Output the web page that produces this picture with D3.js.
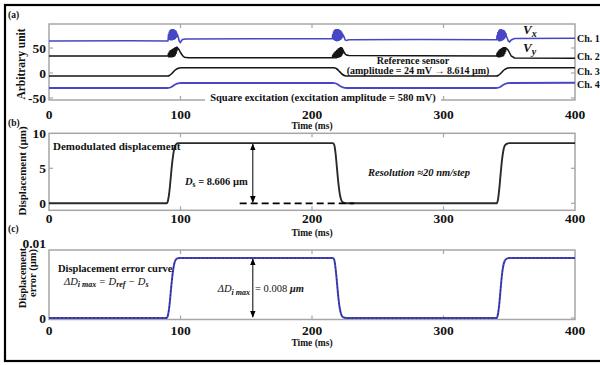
<!DOCTYPE html>
<html><head><meta charset="utf-8">
<script src="https://cdn.jsdelivr.net/npm/d3@7"></script>
<style>
body{margin:0;background:#fff}
svg{display:block}
text{font-family:"Liberation Serif","Times New Roman",Times,serif;fill:#111}
</style>
</head><body>
<svg id="chart" width="600" height="365" font-family="Liberation Serif, Times New Roman, serif"></svg>
<script>
// ---------------- DATA ----------------
const timeTicks = [0, 100, 200, 300, 400];
const ticksA = [-50, 0, 50];
const ticksB = [0, 5, 10];
const ticksC = [0, 0.01];
const channelLabels = ["Ch. 1", "Ch. 2", "Ch. 3", "Ch. 4"];

// Ch.1 (Vx, blue) [time ms, value]
const ch1 = [[0,64],[60,64.5],[90.3,64],
[90.6,66],[90.9,78],[91.2,67],[91.5,83],[91.8,66],[92.1,86],[92.4,65],[92.7,87],[93.0,66],[93.3,88],[93.6,65],[93.9,87],[94.2,66],[94.5,88],[94.8,66],[95.1,87],[95.4,67],[95.7,86],[96.0,68],[96.3,85],[96.6,70],[96.9,83],[97.2,72],[97.5,78],
[98.2,72],[99.0,64],[99.8,61],[100.6,64],[101.5,67],[104,68],[160,68.5],[215.2,68.5],
[215.5,70],[215.8,78],[216.1,67],[216.4,83],[216.7,66],[217.0,86],[217.3,65],[217.6,87],[217.9,64],[218.2,88],[218.5,64],[218.8,88],[219.1,63],[219.4,87],[219.7,64],[220.0,88],[220.3,64],[220.6,87],[220.9,65],[221.2,86],[221.5,66],[221.8,85],[222.1,67],[222.4,83],[222.7,69],[223.0,80],[223.3,72],[223.6,76],
[224.3,73],[225.2,66],[226.2,65],[228,66.5],[280,67],[340.2,66.5],
[340.5,68],[340.8,76],[341.1,66],[341.4,82],[341.7,64],[342.0,85],[342.3,63],[342.6,87],[342.9,63],[343.2,88],[343.5,64],[343.8,88],[344.1,64],[344.4,87],[344.7,65],[345.0,87],[345.3,66],[345.6,86],[345.9,67],[346.2,85],[346.5,69],[346.8,83],[347.1,71],[347.4,80],[347.7,74],
[348.4,70],[349.3,64],[350.3,62],[351.5,66],[354,69],[400,69.5]];

// Ch.2 (Vy, black)
const ch2 = [[0,34],[60,34],[90.3,34],
[90.6,35],[90.9,40],[91.2,31],[91.5,43],[91.8,31],[92.1,45],[92.4,31],[92.7,46],[93.0,32],[93.3,47],[93.6,31],[93.9,48],[94.2,32],[94.5,49],[94.8,32],[95.1,50],[95.4,33],[95.7,51],[96.0,35],[96.3,52],[96.6,38],[96.9,52],[97.2,43],[97.5,51],
[98.2,49],[99.0,46],[100,41],[101.5,35],[103,31.5],[106,30.5],[160,30.5],[215.2,30.5],
[215.5,32],[215.8,36],[216.1,29],[216.4,39],[216.7,29],[217.0,41],[217.3,29],[217.6,43],[217.9,30],[218.2,44],[218.5,29],[218.8,46],[219.1,30],[219.4,47],[219.7,30],[220.0,49],[220.3,31],[220.6,50],[220.9,31],[221.2,51],[221.5,32],[221.8,52],[222.1,33],[222.4,52],[222.7,35],[223.0,50],[223.3,38],[223.6,46],
[224.3,42],[225.2,38],[226.2,36],[228,35],[280,34.5],[340.2,34],
[340.5,36],[340.8,40],[341.1,32],[341.4,43],[341.7,31],[342.0,45],[342.3,31],[342.6,47],[342.9,31],[343.2,48],[343.5,32],[343.8,49],[344.1,32],[344.4,50],[344.7,33],[345.0,51],[345.3,33],[345.6,52],[345.9,35],[346.2,52],[346.5,38],[346.8,52],[347.1,42],[347.4,51],[347.7,48],
[348.4,48],[349.3,45],[350.3,40],[351.5,34],[354,30],[400,29.5]];

// Ch.3 (reference sensor, black)
const ch3 = [[0,-6],[90,-6],[91.5,-5],[93,-2],[94.5,2],[96,6],[97.5,8.5],[99,10],[101,10.5],[216,10.5],[217.5,10],[219,8],[220.5,4],[222,0],[223.5,-3.5],[225,-5.5],[227,-6],[340,-6],[341.5,-5],[343,-2],[344.5,2],[346,6],[347.5,8.5],[349,10],[351,10.5],[400,10.5]];

// Ch.4 (square excitation, blue)
const ch4 = [[0,-30],[90,-30],[91.5,-29.5],[93,-28],[94.5,-25.5],[96,-23],[97.5,-21.3],[99,-20.4],[101,-20],[216,-20],[217.5,-20.5],[219,-22],[220.5,-24.5],[222,-27],[223.5,-28.8],[225,-29.7],[227,-30],[340,-30],[341.5,-29.5],[343,-28],[344.5,-25.5],[346,-23],[347.5,-21.3],[349,-20.4],[351,-20],[400,-19.5]];

// Demodulated displacement (um)
const disp = [[0,0],[89.5,0],[90.5,0.4],[91.5,1.6],[92.5,3.5],[93.5,5.5],[94.5,7.0],[95.5,8.0],[96.5,8.4],[98,8.58],[100,8.6],[216,8.6],[217,8.3],[218,7.0],[219,5.0],[220,3.0],[221,1.5],[222,0.6],[223,0.2],[225,0.03],[227,0],[340.5,0],[341.5,0.6],[342.5,2.2],[343.5,4.3],[344.5,6.2],[345.5,7.5],[346.5,8.2],[348,8.5],[350,8.6],[400,8.6]];

// Displacement error (um)
const err = [[0,0],[89.5,0],[90.5,0.0004],[91.5,0.0015],[92.5,0.0033],[93.5,0.0051],[94.5,0.0065],[95.5,0.0074],[96.5,0.0078],[98,0.00798],[100,0.008],[216,0.008],[217,0.0077],[218,0.0065],[219,0.0047],[220,0.0028],[221,0.0014],[222,0.0006],[223,0.0002],[225,0.00003],[227,0],[340.5,0],[341.5,0.0006],[342.5,0.002],[343.5,0.004],[344.5,0.0058],[345.5,0.007],[346.5,0.0076],[348,0.0079],[350,0.008],[400,0.008]];

// annotation values
const dsTime = 155, dsTop = 8.6, dashFrom = 145, dashTo = 232;
const errArrowTime = 155, errTop = 0.008;

// ---------------- DRAWING ----------------
const svg = d3.select("#chart");
const BLUE = "#4646c6", BLACK = "#151515", FRAME = "#a6a6a6";

svg.append("rect").attr("x",5).attr("y",5).attr("width",620).attr("height",356)
  .attr("fill","none").attr("stroke","#000").attr("stroke-width",2.2);

const x = d3.scaleLinear().domain([0,400]).range([49,575]);

const defs = svg.append("defs");
defs.append("marker").attr("id","ah").attr("viewBox","0 0 10 10").attr("refX",9).attr("refY",5)
  .attr("markerWidth",7).attr("markerHeight",7).attr("orient","auto-start-reverse")
  .append("path").attr("d","M0,1 L10,5 L0,9 Z").attr("fill","#000");

function panel(id, yScale, top, bottom, yTicks, yFmt, tickBase, timeBase) {
  defs.append("clipPath").attr("id","clip"+id).append("rect")
    .attr("x",x(0)).attr("y",top).attr("width",x(400)-x(0)).attr("height",bottom-top);
  const g = svg.append("g");
  g.append("rect").attr("x",x(0)).attr("y",top).attr("width",x(400)-x(0)).attr("height",bottom-top)
    .attr("fill","none").attr("stroke",FRAME).attr("stroke-width",1.5);
  timeTicks.slice(1,-1).forEach(t=>{
    g.append("line").attr("x1",x(t)).attr("x2",x(t)).attr("y1",bottom).attr("y2",bottom-4).attr("stroke",FRAME).attr("stroke-width",1.2);
    g.append("line").attr("x1",x(t)).attr("x2",x(t)).attr("y1",top).attr("y2",top+4).attr("stroke",FRAME).attr("stroke-width",1.2);
  });
  yTicks.forEach(v=>{
    const yy = yScale(v);
    if (yy > top+1 && yy < bottom-1) {
      g.append("line").attr("x1",x(0)).attr("x2",x(0)+4).attr("y1",yy).attr("y2",yy).attr("stroke",FRAME).attr("stroke-width",1.2);
      g.append("line").attr("x1",x(400)).attr("x2",x(400)-4).attr("y1",yy).attr("y2",yy).attr("stroke",FRAME).attr("stroke-width",1.2);
    }
    g.append("text").attr("x",46).attr("y",yy).attr("dy","0.35em").attr("text-anchor","end")
      .attr("font-size",13.5).attr("font-weight","bold").text(yFmt(v));
  });
  timeTicks.forEach(t=>{
    g.append("text").attr("x",x(t)).attr("y",tickBase).attr("text-anchor","middle")
      .attr("font-size",13.5).attr("font-weight","bold").text(t);
  });
  g.append("text").attr("x",(x(0)+x(400))/2).attr("y",timeBase).attr("text-anchor","middle")
    .attr("font-size",9.5).attr("font-weight","bold").text("Time (ms)");
  return g;
}

// ---- panel (a)
const yA = d3.scaleLinear().domain([-54,98]).range([100,24]);
panel("A", yA, 24, 100, ticksA, d=>d, 118.5, 129);
const lineA = d3.line().x(d=>x(d[0])).y(d=>yA(d[1]));
const lineAs = d3.line().x(d=>x(d[0])).y(d=>yA(d[1])).curve(d3.curveMonotoneX);
const trA = svg.append("g").attr("clip-path","url(#clipA)");
trA.append("path").datum(ch4).attr("d",lineAs).attr("fill","none").attr("stroke",BLUE).attr("stroke-width",1.8);
trA.append("path").datum(ch3).attr("d",lineAs).attr("fill","none").attr("stroke",BLACK).attr("stroke-width",1.6);
trA.append("path").datum(ch2).attr("d",lineA).attr("fill","none").attr("stroke",BLACK).attr("stroke-width",1.5);
trA.append("path").datum(ch1).attr("d",lineA).attr("fill","none").attr("stroke",BLUE).attr("stroke-width",1.6);

svg.append("rect").attr("x",205).attr("y",92).attr("width",236).attr("height",10).attr("fill","#fff");
svg.append("text").attr("x",323).attr("y",101).attr("text-anchor","middle").attr("font-size",10.5)
  .attr("font-weight","bold").text("Square excitation  (excitation amplitude = 580 mV)");
svg.append("text").attr("x",413).attr("y",63.5).attr("text-anchor","middle").attr("font-size",10)
  .attr("font-weight","bold").text("Reference sensor");
svg.append("text").attr("x",418).attr("y",74).attr("text-anchor","middle").attr("font-size",10)
  .attr("font-weight","bold").text("(amplitude =  24 mV \u2192 8.614 \u00b5m)");
function vLabel(yb, sub){
  const t = svg.append("text").attr("x",523).attr("y",yb).attr("font-weight","bold").attr("font-style","italic");
  t.append("tspan").attr("font-size",13).text("V");
  t.append("tspan").attr("font-size",10).attr("dy",3).text(sub);
}
vLabel(34,"x"); vLabel(52,"y");
[42,60,75,88].forEach((yb,i)=>{
  svg.append("text").attr("x",577).attr("y",yb).attr("font-size",10).attr("font-weight","bold").text(channelLabels[i]);
});
svg.append("text").attr("x",8).attr("y",18).attr("font-size",9.5).attr("font-weight","bold").text("(a)");
svg.append("text").attr("transform","translate(25,64) rotate(-90)").attr("text-anchor","middle")
  .attr("font-size",11.5).attr("font-weight","bold").text("Arbitrary unit");

// ---- panel (b)
const yB = d3.scaleLinear().domain([-1,10]).range([210.3,133.3]);
panel("B", yB, 133.3, 210.3, ticksB, d=>d, 223, 235.5);
const lineB = d3.line().x(d=>x(d[0])).y(d=>yB(d[1])).curve(d3.curveMonotoneX);
const trB = svg.append("g").attr("clip-path","url(#clipB)");
trB.append("path").datum(disp).attr("d",lineB).attr("fill","none").attr("stroke","#2a2a2a").attr("stroke-width",1.9);
svg.append("line").attr("x1",x(dashFrom)).attr("x2",x(dashTo)).attr("y1",yB(0)).attr("y2",yB(0))
  .attr("stroke","#000").attr("stroke-width",1.8).attr("stroke-dasharray","7,4");
svg.append("line").attr("x1",x(dsTime)).attr("x2",x(dsTime)).attr("y1",yB(dsTop)+1).attr("y2",yB(0)-1)
  .attr("stroke","#000").attr("stroke-width",1).attr("marker-start","url(#ah)").attr("marker-end","url(#ah)");
svg.append("text").attr("x",53).attr("y",149.5).attr("font-size",11).attr("font-weight","bold").text("Demodulated displacement");
{
  const t = svg.append("text").attr("x",185).attr("y",185).attr("font-size",10.5).attr("font-weight","bold");
  t.append("tspan").attr("font-style","italic").text("D");
  t.append("tspan").attr("font-size",7.5).attr("dy",2).text("s");
  t.append("tspan").attr("dy",-2).text(" = 8.606 \u00b5m");
}
svg.append("text").attr("x",368).attr("y",176).attr("font-size",10.5).attr("font-weight","bold")
  .attr("font-style","italic").text("Resolution  \u224820 nm/step");
svg.append("text").attr("x",8).attr("y",126).attr("font-size",9.5).attr("font-weight","bold").text("(b)");
svg.append("text").attr("transform","translate(26,171) rotate(-90)").attr("text-anchor","middle")
  .attr("font-size",11).attr("font-weight","bold").text("Displacement (\u00b5m)");

// ---- panel (c)
const yC = d3.scaleLinear().domain([0,0.01]).range([318,243]);
panel("C", yC, 250, 319.5, ticksC, d=>d===0?"0":d.toFixed(2), 335, 346);
const lineC = d3.line().x(d=>x(d[0])).y(d=>yC(d[1])).curve(d3.curveMonotoneX);
const trC = svg.append("g").attr("clip-path","url(#clipC)");
trC.append("path").datum(err).attr("d",lineC).attr("fill","none").attr("stroke",BLUE).attr("stroke-width",2);
trC.append("path").datum(err).attr("d",lineC).attr("fill","none").attr("stroke","#202060").attr("stroke-width",0.8).attr("stroke-dasharray","2,2");
svg.append("line").attr("x1",x(errArrowTime)).attr("x2",x(errArrowTime)).attr("y1",yC(errTop)+1).attr("y2",yC(0)-1)
  .attr("stroke","#000").attr("stroke-width",1).attr("marker-start","url(#ah)").attr("marker-end","url(#ah)");
svg.append("text").attr("x",58).attr("y",272).attr("font-size",10.5).attr("font-weight","bold").text("Displacement error curve");
{
  const t = svg.append("text").attr("x",64).attr("y",284.5).attr("font-size",10.5).attr("font-style","italic");
  t.append("tspan").text("\u0394D");
  t.append("tspan").attr("font-size",8).attr("dy",2.5).attr("font-weight","bold").text("i max");
  t.append("tspan").attr("dy",-2.5).text(" = D");
  t.append("tspan").attr("font-size",8).attr("dy",2.5).attr("font-weight","bold").text("ref");
  t.append("tspan").attr("dy",-2.5).text(" \u2212 D");
  t.append("tspan").attr("font-size",8).attr("dy",2.5).attr("font-weight","bold").text("s");
}
{
  const t = svg.append("text").attr("x",250).attr("y",292).attr("text-anchor","end").attr("font-size",10.5).attr("font-style","italic");
  t.append("tspan").text("\u0394D");
  t.append("tspan").attr("font-size",8).attr("dy",2.5).attr("font-weight","bold").text("i max");
  const t2 = svg.append("text").attr("x",255).attr("y",292).attr("font-size",10.5);
  t2.append("tspan").text("= 0.008 ");
  t2.append("tspan").attr("font-style","italic").attr("font-weight","bold").text("\u00b5m");
}
svg.append("text").attr("x",8).attr("y",232).attr("font-size",9.5).attr("font-weight","bold").text("(c)");
svg.append("text").attr("transform","translate(26,278) rotate(-90)").attr("text-anchor","middle")
  .attr("font-size",10.5).attr("font-weight","bold").text("Displacement");
svg.append("text").attr("transform","translate(36,273) rotate(-90)").attr("text-anchor","middle")
  .attr("font-size",10.5).attr("font-weight","bold").text("error (\u00b5m)");
</script>
</body></html>
